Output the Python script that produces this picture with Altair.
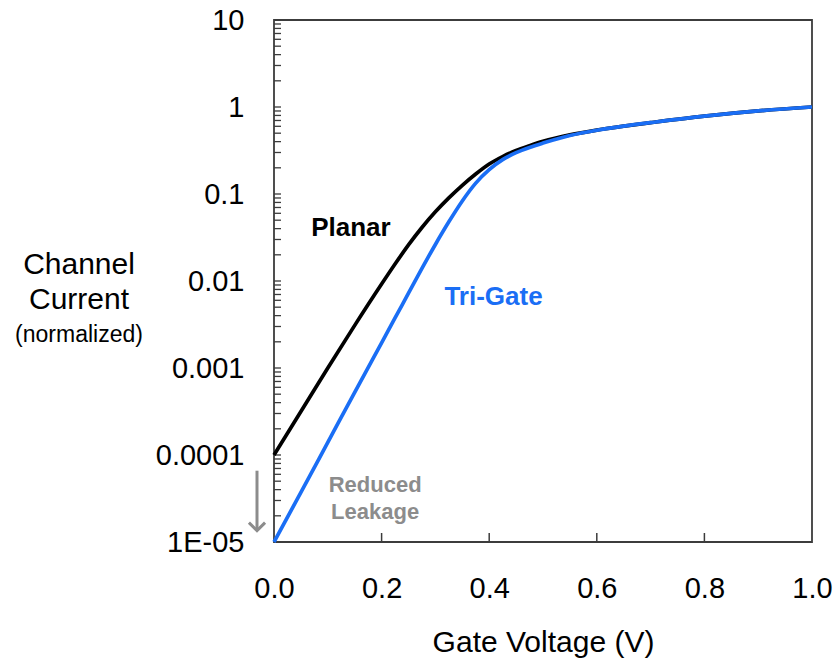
import math
import altair as alt
import pandas as pd

# ---- data (currents given as log10 of normalized current) ----
voltage = [0.0, 0.05, 0.10, 0.15, 0.20, 0.225, 0.25, 0.275, 0.30, 0.325, 0.35,
           0.375, 0.40, 0.425, 0.45, 0.475, 0.50, 0.55, 0.60, 0.65, 0.70, 0.80, 0.90, 1.0]
planar_log10 = [-4.0, -3.5, -3.0, -2.51, -2.035, -1.805, -1.585, -1.385, -1.205, -1.045,
                -0.90, -0.77, -0.655, -0.57, -0.50, -0.445, -0.395, -0.32, -0.265, -0.22,
                -0.18, -0.105, -0.045, 0.0]
trigate_log10 = [-5.0, -4.43, -3.855, -3.28, -2.71, -2.425, -2.14, -1.855, -1.58, -1.32,
                 -1.08, -0.875, -0.72, -0.605, -0.525, -0.465, -0.415, -0.328, -0.267, -0.22,
                 -0.18, -0.105, -0.045, 0.0]

series_names = ["Planar", "Tri-Gate"]
series_colors = ["#000000", "#1a6ef5"]

y_tick_values = [1e-5, 1e-4, 1e-3, 1e-2, 1e-1, 1, 10]
y_tick_labels = ["1E-05", "0.0001", "0.001", "0.01", "0.1", "1", "10"]
x_tick_values = [0.0, 0.2, 0.4, 0.6, 0.8, 1.0]
x_inner_ticks = [0.2, 0.4, 0.6, 0.8]
minor_ticks = [m * d for d in [1e-5, 1e-4, 1e-3, 1e-2, 1e-1, 1] for m in range(1, 10)] + [10]

# annotation anchors (data coordinates)
ann_text = ["Planar", "Tri-Gate"]
ann_x = [0.143, 0.408]
ann_y = [0.041, 0.00655]
leak_text = ["Reduced", "Leakage"]
leak_x = [0.188, 0.188]
leak_y = [4.5e-5, 2.2e-5]
arrow_from = [6.6e-5]
arrow_to = [1.35e-5]

FONT = "Liberation Sans"
W, H = 538, 522

df = pd.DataFrame({
    "V": voltage * 2,
    "I": [10 ** v for v in planar_log10] + [10 ** v for v in trigate_log10],
    "series": ["Planar"] * len(voltage) + ["Tri-Gate"] * len(voltage),
    "order": list(range(len(voltage))) * 2,
})

label_expr = ""
for v, l in zip(y_tick_values, y_tick_labels):
    label_expr += f"abs(log(datum.value)/log(10) - ({math.log10(v)})) < 0.01 ? '{l}' : "
label_expr += "''"

xscale = alt.Scale(domain=[0, 1], nice=False)
yscale = alt.Scale(type="log", domain=[1e-5, 10], nice=False)
cscale = alt.Scale(domain=series_names, range=series_colors)

lines = alt.Chart(df).mark_line(strokeWidth=3.7, interpolate="monotone").encode(
    x=alt.X("V:Q", scale=xscale,
            axis=alt.Axis(values=x_tick_values, format=".1f", tickSize=0, labelPadding=32,
                          labelFlush=False, labelFontSize=29, labelFont=FONT,
                          labelColor="#000", domain=False, grid=False,
                          title="Gate Voltage (V)", titleFont=FONT, titleFontSize=30,
                          titleFontWeight="normal", titleColor="#000", titlePadding=24)),
    y=alt.Y("I:Q", scale=yscale,
            axis=alt.Axis(values=y_tick_values, labelExpr=label_expr, tickSize=0,
                          labelPadding=30, labelFontSize=29, labelFont=FONT,
                          labelColor="#000", domain=False, grid=False, title=None)),
    color=alt.Color("series:N", scale=cscale, legend=None),
    order="order:Q",
)

ytick_df = pd.DataFrame({"t": minor_ticks})
yticks = alt.Chart(ytick_df).mark_rule(color="#3c3c3c", strokeWidth=1.3).encode(
    x=alt.value(0), x2=alt.value(7), y=alt.Y("t:Q", scale=yscale))

xtick_df = pd.DataFrame({"t": x_inner_ticks})
xticks = alt.Chart(xtick_df).mark_rule(color="#3c3c3c", strokeWidth=1.5).encode(
    x=alt.X("t:Q", scale=xscale), y=alt.value(H), y2=alt.value(H - 9))

ann_df = pd.DataFrame({"text": ann_text, "x": ann_x, "y": ann_y, "series": series_names})
ann = alt.Chart(ann_df).mark_text(font=FONT, fontSize=26, fontWeight="bold").encode(
    x=alt.X("x:Q", scale=xscale), y=alt.Y("y:Q", scale=yscale), text="text:N",
    color=alt.Color("series:N", scale=cscale, legend=None))

leak_df = pd.DataFrame({"text": leak_text, "x": leak_x, "y": leak_y})
leak = alt.Chart(leak_df).mark_text(font=FONT, fontSize=22, fontWeight="bold",
                                    color="#8c8c8c").encode(
    x=alt.X("x:Q", scale=xscale), y=alt.Y("y:Q", scale=yscale), text="text:N")

arrow_df = pd.DataFrame({"a": arrow_from, "b": arrow_to})
shaft = alt.Chart(arrow_df).mark_rule(color="#8c8c8c", strokeWidth=3).encode(
    x=alt.value(-17), y=alt.Y("a:Q", scale=yscale), y2="b:Q")
head = alt.Chart(arrow_df).mark_point(
    shape="M -1 -1 L 0 0 L 1 -1", filled=False, color="#8c8c8c", strokeWidth=3,
    size=260, opacity=1).encode(x=alt.value(-17), y=alt.Y("b:Q", scale=yscale))

ytitle_df = pd.DataFrame({"text": ["Channel", "Current"], "py": [245, 280]})
ytitle = alt.Chart(ytitle_df).mark_text(font=FONT, fontSize=30, color="#000").encode(
    x=alt.value(-195), y=alt.Y("py:Q", scale=None), text="text:N")
ysub = alt.Chart(pd.DataFrame({"text": ["(normalized)"]})).mark_text(
    font=FONT, fontSize=23, color="#000").encode(
    x=alt.value(-195), y=alt.value(315), text="text:N")

chart = alt.layer(yticks, xticks, lines, ann, leak, shaft, head, ytitle, ysub).properties(
    width=W, height=H,
    autosize=alt.AutoSizeParams(type="none"),
    padding={"left": 274, "top": 20, "right": 27, "bottom": 121},
    background="white",
).configure_view(stroke="#3c3c3c", strokeWidth=1.8)

chart.save("out.html", embed_options={"renderer": "svg", "actions": False})
